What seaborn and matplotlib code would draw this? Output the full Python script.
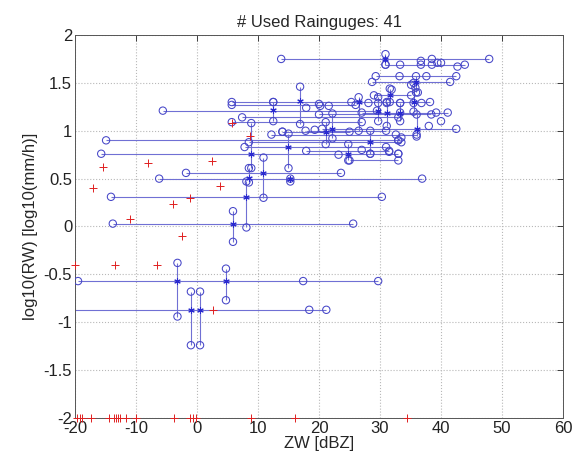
import matplotlib
matplotlib.use("Agg")
import matplotlib.pyplot as plt
import seaborn as sns
import numpy as np
import pandas as pd

OUTPUT_FILE = 'out.png'

# --- horizontal spreads (ZW range at the gauge's RW value) ---
h_y = [1.75, 1.69, 1.57, 1.51, 1.37, 1.30, 1.27, 1.21, 1.19, 1.17, 1.14, 1.09,
       1.02, 1.00, 0.99, 0.96, 0.90, 0.88, 0.83, 0.79, 0.76, 0.69, 0.56, 0.50,
       0.31, 0.03, -0.57, -0.87]
h_x0 = [13.8, 30.9, 29.3, 28.7, 29.0, 5.7, 5.7, -5.6, 27.0, 20.0, 7.4, 5.7,
        20.5, 17.8, 14.0, 12.2, -14.9, 8.5, 7.8, 17.9, -15.7, 25.0, -1.8, -6.2,
        -14.1, -13.8, -19.5, -25.0]
h_x1 = [47.9, 43.9, 42.5, 41.5, 35.1, 38.2, 26.0, 29.5, 41.1, 38.4, 33.0, 27.0,
        42.5, 31.0, 25.0, 36.0, 33.0, 33.5, 31.0, 31.5, 33.0, 33.0, 23.6, 36.9,
        30.3, 25.6, 29.7, 21.2]

# --- vertical spreads (RW range at the gauge's ZW value) ---
v_x = [30.9, 35.9, 16.9, 12.5, 8.9, 8.5, 15.0, 10.9, 15.3, 21.1, 22.2, 24.8,
       28.4, 36.0, 8.1, 5.9, -3.2, 4.75, -1.0, 0.5, 26.5, 29.7, 31.1, 33.3,
       35.5, 31.6]
v_y0 = [1.69, 1.40, 1.07, 1.10, 0.61, 0.46, 0.61, 0.30, 0.47, 0.86, 0.92, 0.69,
        0.76, 0.94, -0.01, -0.16, -0.94, -0.77, -1.24, -1.24, 1.00, 1.10, 1.05,
        1.10, 1.20, 1.30]
v_y1 = [1.80, 1.57, 1.46, 1.30, 1.08, 0.61, 0.97, 0.72, 0.50, 1.09, 1.18, 0.86,
        1.00, 1.17, 0.47, 0.16, -0.38, -0.44, -0.68, -0.68, 1.35, 1.35, 1.30,
        1.29, 1.50, 1.44]

# --- gauge centres ---
c_x = [30.9, 35.9, 16.9, 12.5, 8.9, 8.5, 15.0, 10.9, 15.3, 21.1, 22.2, 24.8,
       28.4, 36.0, 8.1, 5.9, -3.2, 4.75, -1.0, 0.5, 26.5, 29.7, 31.1, 33.3,
       35.5, 31.6]
c_y = [1.75, 1.51, 1.31, 1.22, 0.76, 0.51, 0.83, 0.56, 0.50, 0.99, 1.02, 0.76,
       0.88, 1.02, 0.31, 0.03, -0.57, -0.57, -0.87, -0.87, 1.30, 1.21, 1.19,
       1.19, 1.30, 1.37]

# --- extra circles in the dense cluster ---
e_x = [17.4, 18.4, 12.5, 20.2, 21.6, 25.3, 20.0, 17.9, 19.3, 14.0, 33.3, 36.7,
       38.5, 39.4, 42.7, 33.2, 37.6, 36.7, 38.5, 40.0, 31.9, 35.1, 35.8, 36.2,
       28.1, 29.7, 31.1, 33.3, 35.5, 36.8, 33.3, 39.2, 31.5, 33.0, 28.4, 33.0,
       32.6, 33.5, 23.2, 27.0, 38.0, 40.0]
e_y = [-0.57, -0.87, 1.30, 1.26, 1.26, 1.30, 1.28, 1.24, 1.01, 0.99, 1.69, 1.69,
       1.69, 1.71, 1.67, 1.57, 1.57, 1.73, 1.75, 1.71, 1.43, 1.48, 1.45, 1.40,
       1.29, 1.29, 1.29, 1.29, 1.29, 1.29, 1.19, 1.19, 0.78, 0.76, 0.76, 0.90,
       0.96, 0.93, 0.75, 0.80, 1.05, 1.10]

# --- single-estimate points (red) ---
r_x = [-20.0, -13.4, -6.5, -2.4, -3.9, -11.0, -15.4, -17.0, -8.1, 2.5, 3.8,
       -1.2, 2.6, 5.7, 8.7,
       -19.7, -19.2, -18.8, -17.4, -14.5, -13.6, -13.3, -13.0, -12.6, -11.6,
       -10.0, -3.8, -1.1, -0.6, -0.2, 8.8, 16.1, 34.5]
r_y = [-0.40, -0.40, -0.40, -0.10, 0.24, 0.08, 0.62, 0.40, 0.66, 0.68, 0.42,
       0.30, -0.87, 1.08, 0.95,
       -2, -2, -2, -2, -2, -2, -2, -2, -2, -2,
       -2, -2, -2, -2, -2, -2, -2, -2]

X_TICKS = [-20, -10, 0, 10, 20, 30, 40, 50, 60]
Y_TICKS = [-2, -1.5, -1, -0.5, 0, 0.5, 1, 1.5, 2]
Y_TICKLABELS = ['-2', '-1.5', '-1', '-0.5', '0', '0.5', '1', '1.5', '2']

BLUE = '#4646c8'
LINE_BLUE = '#7070d4'
RED = '#e02020'


def main():
    sns.set_theme(style="white")
    plt.rcParams['font.family'] = ['Liberation Sans', 'DejaVu Sans']

    fig = plt.figure(figsize=(5.79, 4.63), dpi=100)
    ax = fig.add_axes([0.1295, 0.0972, 0.8429, 0.8272])

    ax.hlines(h_y, h_x0, h_x1, color=LINE_BLUE, linewidth=0.8, zorder=2)
    ax.vlines(v_x, v_y0, v_y1, color=LINE_BLUE, linewidth=0.8, zorder=2)

    # circles at the ends of every spread
    circ = pd.DataFrame({
        'x': list(h_x0) + list(h_x1) + list(v_x) + list(v_x) + e_x,
        'y': list(h_y) + list(h_y) + list(v_y0) + list(v_y1) + e_y,
    })
    sns.scatterplot(data=circ, x='x', y='y', ax=ax, marker='o', s=28,
                    facecolors='none', edgecolor=BLUE, linewidth=0.75, zorder=3)

    sns.scatterplot(x=c_x, y=c_y, ax=ax, marker=(6, 2, 0), s=16,
                    color='#2a2ad0', edgecolor='#2a2ad0', linewidth=0.8, zorder=4)

    sns.scatterplot(x=r_x, y=r_y, ax=ax, marker='+', s=36,
                    color=RED, edgecolor=RED, linewidth=0.7, zorder=5,
                    clip_on=False)

    ax.set_xlim(-20, 60)
    ax.set_ylim(-2, 2)
    ax.set_xticks(X_TICKS)
    ax.set_xticklabels([str(t) for t in X_TICKS])
    ax.set_yticks(Y_TICKS)
    ax.set_yticklabels(Y_TICKLABELS)
    ax.tick_params(direction='in', length=4, width=0.6, labelsize=12,
                   top=True, right=True, pad=2, colors='#222222')
    ax.grid(True, linestyle=':', linewidth=0.8, color='#b8b8b8')
    for s in ax.spines.values():
        s.set_color('#555555')
        s.set_linewidth(0.7)

    ax.set_xlabel("ZW [dBZ]", fontsize=12, labelpad=0)
    ax.set_ylabel("log10(RW) [log10(mm/h)]", fontsize=12, labelpad=4)
    ax.set_title("# Used Rainguges: 41", fontsize=12, pad=6)

    plt.savefig(OUTPUT_FILE, dpi=100)


if __name__ == '__main__':
    main()
